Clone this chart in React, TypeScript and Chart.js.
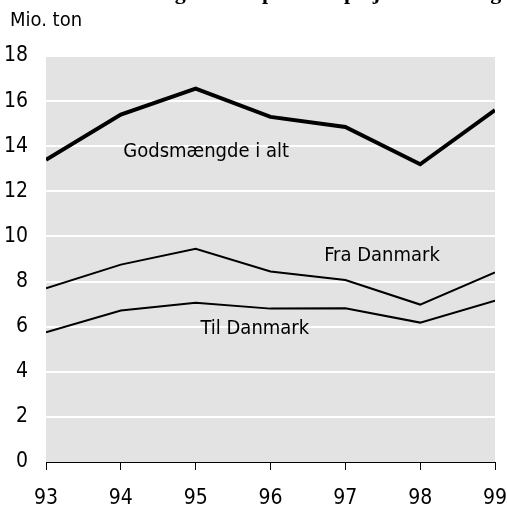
import React, { useEffect, useRef } from "react";
import { Chart, registerables } from "chart.js";

Chart.register(...registerables);

const years = [93, 94, 95, 96, 97, 98, 99];
const total = [13.4, 15.4, 16.55, 15.3, 14.85, 13.2, 15.6];
const fromDK = [7.7, 8.75, 9.45, 8.45, 8.07, 6.98, 8.4];
const toDK = [5.75, 6.72, 7.06, 6.8, 6.82, 6.18, 7.15];
const yTicks = [0, 2, 4, 6, 8, 10, 12, 14, 16, 18];
const unitLabel = "Mio. ton";
const titleText = "Godsmængde transporteret på jernbanefærger";
const seriesLabels = [
  { text: "Godsmængde i alt", x: 95.14, y: 13.74 },
  { text: "Fra Danmark", x: 97.49, y: 9.13 },
  { text: "Til Danmark", x: 95.79, y: 5.9 },
];

const FONT = '"Liberation Sans Narrow", "Arial Narrow", "DejaVu Sans Condensed", sans-serif';

const textPlugin = {
  id: "texts",
  beforeDraw(chart: any) {
    const { ctx, chartArea } = chart;
    ctx.save();
    ctx.fillStyle = "#e3e3e3";
    ctx.fillRect(chartArea.left, chartArea.top, chartArea.right - chartArea.left, chartArea.bottom - chartArea.top);
    ctx.restore();
  },
  afterDraw(chart: any) {
    const { ctx, scales } = chart;
    ctx.save();
    ctx.fillStyle = "#000";
    ctx.font = 'bold 22px "Liberation Serif", "Times New Roman", serif';
    ctx.textAlign = "center";
    ctx.textBaseline = "alphabetic";
    ctx.fillText(titleText, 300, -1);
    ctx.font = "20px " + FONT;
    ctx.textAlign = "left";
    ctx.textBaseline = "middle";
    ctx.fillText(unitLabel, 10, 21);
    ctx.textAlign = "center";
    for (const l of seriesLabels) {
      ctx.fillText(l.text, scales.x.getPixelForValue(l.x), scales.y.getPixelForValue(l.y));
    }
    ctx.restore();
  },
};

export default function App() {
  const ref = useRef<HTMLCanvasElement>(null);
  useEffect(() => {
    if (!ref.current) return;
    const mk = (data: number[], w: number) => ({
      data: years.map((x, i) => ({ x, y: data[i] })),
      borderColor: "#000",
      borderWidth: w,
      pointRadius: 0,
      fill: false,
      tension: 0,
    });
    const chart = new Chart(ref.current, {
      type: "line",
      data: { datasets: [mk(total, 4), mk(fromDK, 2), mk(toDK, 2)] as any },
      options: {
        animation: false,
        responsive: false,
        maintainAspectRatio: false,
        layout: { padding: { left: 0, right: 12, top: 56, bottom: 0 } },
        plugins: { legend: { display: false }, tooltip: { enabled: false }, title: { display: false } },
        scales: {
          x: {
            type: "linear",
            min: 93,
            max: 99,
            afterBuildTicks: (s: any) => { s.ticks = years.map((v) => ({ value: v })); },
            afterFit: (s: any) => { s.height = 50; s.paddingRight = 0; s.paddingLeft = 0; },
            grid: { display: true, drawOnChartArea: false, drawTicks: true, tickLength: 8, tickColor: "#000", tickWidth: 1 },
            border: { display: true, color: "#000", width: 1 },
            ticks: { color: "#000", font: { family: FONT, size: 21 }, padding: 16, maxRotation: 0, callback: (v: any) => String(v) },
          },
          y: {
            min: 0,
            max: 18,
            afterBuildTicks: (s: any) => { s.ticks = yTicks.map((v) => ({ value: v })); },
            afterFit: (s: any) => { s.width = 46; },
            grid: { color: (c: any) => (c.tick && c.tick.value === 0 ? "rgba(0,0,0,0)" : "#ffffff"), lineWidth: 2, drawTicks: false },
            border: { display: false },
            ticks: { color: "#000", font: { family: FONT, size: 21 }, padding: 18 },
          },
        },
      },
      plugins: [textPlugin],
    } as any);
    return () => chart.destroy();
  }, []);
  return (
    <div style={{ position: "fixed", left: 0, top: 0, width: 507, height: 512, background: "#fff" }}>
      <canvas ref={ref} width={507} height={512} style={{ display: "block" }} />
    </div>
  );
}
